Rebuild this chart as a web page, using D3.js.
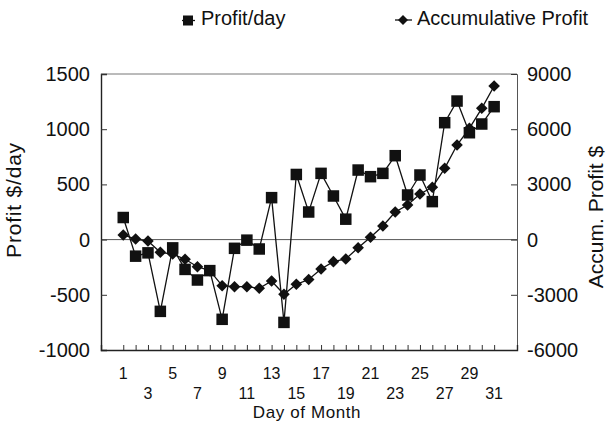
<!DOCTYPE html>
<html>
<head>
<meta charset="utf-8">
<script src="https://cdn.jsdelivr.net/npm/d3@7"></script>
<style>
  html, body { margin: 0; padding: 0; background: #fff; }
  svg { display: block; font-family: "Liberation Sans", Arial, Helvetica, sans-serif; }
</style>
</head>
<body>
<svg id="chart" width="609" height="426"></svg>
<script>
// ---- data ----
const days = d3.range(1, 32);
const profitPerDay = [200, -150, -120, -650, -75, -270, -366, -281, -722, -79, -5, -85, 380, -750,
  590, 250, 600, 395, 185, 630, 570, 600, 760, 404, 585, 344, 1059, 1255, 968, 1047, 1204];
const accumProfit = [250, 33, -76, -690, -783, -1071, -1473, -1690, -2505, -2560, -2560, -2647, -2250, -2973,
  -2430, -2170, -1598, -1199, -1054, -440, 125, 739, 1500, 1880, 2478, 2842, 3875, 5141, 6049, 7136, 8348];
const leftTicks = [-1000, -500, 0, 500, 1000, 1500];
const rightTicks = [-6000, -3000, 0, 3000, 6000, 9000];
const xTickLabels = days.filter(d => d % 2 === 1);
const legendLabels = ["Profit/day", "Accumulative Profit"];
const titles = { x: "Day of Month", yLeft: "Profit $/day", yRight: "Accum. Profit $" };

// ---- layout ----
const L = 101, R = 517, T = 74, B = 350;
const svg = d3.select("#chart");

const x = d3.scaleLinear().domain([-0.8, 32.85]).range([L, R]);
const yL = d3.scaleLinear().domain([-1000, 1500]).range([B, T]);
const yR = d3.scaleLinear().domain([-6000, 9000]).range([B, T]);
const fmt = d => String(d);

// frame: top + right light
svg.append("line").attr("x1", L).attr("x2", R).attr("y1", T).attr("y2", T)
  .attr("stroke", "#777").attr("stroke-width", 1);

// zero line
svg.append("line").attr("x1", L).attr("x2", R).attr("y1", yL(0)).attr("y2", yL(0))
  .attr("stroke", "#555").attr("stroke-width", 1);

// left axis
const gL = svg.append("g").attr("transform", `translate(${L},0)`)
  .call(d3.axisLeft(yL).tickValues(leftTicks).tickSize(-6).tickPadding(11).tickFormat(fmt));
// right axis
const gR = svg.append("g").attr("transform", `translate(${R},0)`)
  .call(d3.axisRight(yR).tickValues(rightTicks).tickSize(-6).tickPadding(10).tickFormat(fmt));
// bottom axis
const gB = svg.append("g").attr("transform", `translate(0,${B})`)
  .call(d3.axisBottom(x).tickValues(days).tickSize(-5).tickFormat(""));

[gL, gR, gB].forEach(g => {
  g.select(".domain").attr("stroke", "#222").attr("stroke-width", 1.4);
  g.selectAll(".tick line").attr("stroke", "#333").attr("stroke-width", 1);
});
gR.select(".domain").attr("stroke", "#555").attr("stroke-width", 1);
[gL, gR].forEach(g => g.selectAll(".tick text").attr("font-size", 20).attr("fill", "#111")
  .attr("font-family", "Liberation Sans, Arial, sans-serif"));

// x tick labels in two staggered rows
svg.append("g").selectAll("text").data(xTickLabels).join("text")
  .attr("x", d => x(d))
  .attr("y", (d, i) => i % 2 === 0 ? 379 : 399)
  .attr("text-anchor", "middle")
  .attr("font-size", 16).attr("fill", "#111")
  .text(d => d);

// axis titles
svg.append("text").attr("x", 307).attr("y", 418).attr("text-anchor", "middle")
  .attr("font-size", 17).attr("letter-spacing", 0.6).attr("fill", "#111").text(titles.x);
svg.append("text").attr("transform", "translate(21,200) rotate(-90)").attr("text-anchor", "middle")
  .attr("font-size", 21).attr("letter-spacing", 0.8).attr("fill", "#111").text(titles.yLeft);
svg.append("text").attr("transform", "translate(603,217) rotate(-90)").attr("text-anchor", "middle")
  .attr("font-size", 21).attr("fill", "#111").text(titles.yRight);

// lines
const lineL = d3.line().x((d, i) => x(days[i])).y(d => yL(d));
const lineR = d3.line().x((d, i) => x(days[i])).y(d => yR(d));
svg.append("path").datum(accumProfit).attr("d", lineR).attr("fill", "none").attr("stroke", "#111").attr("stroke-width", 1.3);
svg.append("path").datum(profitPerDay).attr("d", lineL).attr("fill", "none").attr("stroke", "#111").attr("stroke-width", 1.3);

// markers
const diamond = (cx, cy, r) => `M${cx},${cy - r}L${cx + r},${cy}L${cx},${cy + r}L${cx - r},${cy}Z`;
svg.append("g").selectAll("path").data(accumProfit).join("path")
  .attr("d", (d, i) => diamond(x(days[i]), yR(d), 5.8)).attr("fill", "#111");
const sq = 11.5;
svg.append("g").selectAll("rect").data(profitPerDay).join("rect")
  .attr("x", (d, i) => x(days[i]) - sq / 2).attr("y", d => yL(d) - sq / 2)
  .attr("width", sq).attr("height", sq).attr("fill", "#111");

// legend
const lg = svg.append("g");
lg.append("line").attr("x1", 182).attr("x2", 195).attr("y1", 20.5).attr("y2", 20.5).attr("stroke", "#111").attr("stroke-width", 1.3);
lg.append("rect").attr("x", 183).attr("y", 15.5).attr("width", 10).attr("height", 10).attr("fill", "#111");
lg.append("text").attr("x", 201).attr("y", 25).attr("font-size", 20).attr("fill", "#111").text(legendLabels[0]);
lg.append("line").attr("x1", 395).attr("x2", 412).attr("y1", 20).attr("y2", 20).attr("stroke", "#111").attr("stroke-width", 1.3);
lg.append("path").attr("d", diamond(403, 20, 5)).attr("fill", "#111");
lg.append("text").attr("x", 417).attr("y", 25).attr("font-size", 20).attr("fill", "#111").text(legendLabels[1]);
</script>
</body>
</html>
